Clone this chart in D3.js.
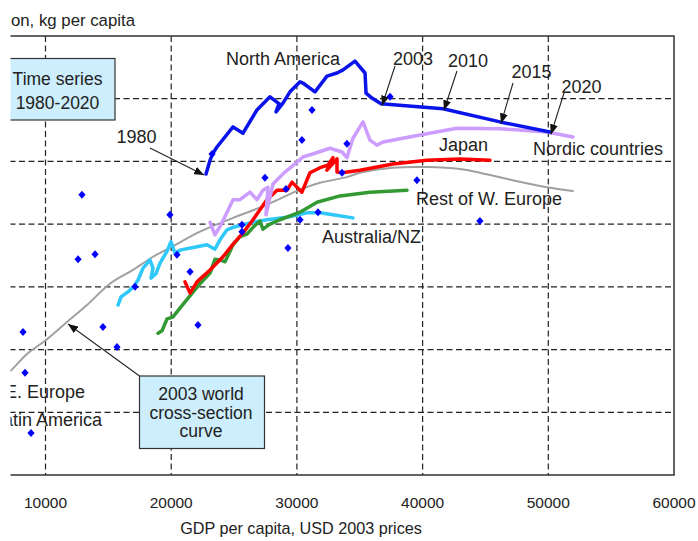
<!DOCTYPE html>
<html>
<head>
<meta charset="utf-8">
<script src="https://cdn.jsdelivr.net/npm/d3@7"></script>
<style>
body { margin: 0; background: #fff; }
text { font-family: "Liberation Sans", Arial, sans-serif; fill: #222; }
</style>
</head>
<body>
<svg id="chart"></svg>
<script>
// ---------- data (GDP per capita USD, kg per capita) ----------
var xTicks = [10000, 20000, 30000, 40000, 50000, 60000];
var yGrid = [100, 200, 300, 400, 500, 600];

var northAmerica = [[22770,480],[23090,502],[23320,513],[23640,523],[24920,555],[25710,545],
  [26820,582],[27860,603],[28570,592],[28340,579],[28890,593],[29450,611],[30250,627],
  [30480,625],[31440,611],[32390,636],[33190,641],[33670,646],[34620,660],[35420,641],
  [35500,609],[35970,601],[36690,592],[41620,584],[46160,563],[50130,547]];

var nordic = [[23090,403],[23480,383],[23960,399],[24920,439],[25470,439],[26270,451],
  [26820,439],[27300,454],[27700,459],[27540,415],[28100,464],[29050,483],[30010,499],
  [30480,507],[31440,513],[32630,521],[33590,515],[33980,506],[34460,537],[35260,563],
  [35810,534],[36370,526],[36850,531],[39790,542],[42730,553],[46160,552],[49890,547],[51960,539]];

var japan = [[21100,308],[21500,290],[22050,308],[23090,327],[24120,348],[24920,368],
  [25710,386],[26510,407],[27060,423],[27620,439],[28420,454],[29210,454],[29610,467],
  [30400,451],[31040,482],[31840,490],[32470,494],[32870,506],[32390,486],[33190,504],
  [33190,483],[33590,482],[35020,486],[37640,496],[40350,502],[42970,504],[45360,502]];

var restWEurope = [[18950,226],[19270,230],[19670,249],[20140,252],[21100,276],[22290,305],
  [23090,322],[23480,344],[23880,343],[24280,340],[24920,367],[25470,380],[26030,384],
  [26510,395],[27060,405],[27300,392],[27860,400],[28650,407],[30250,419],[31600,435],
  [33430,445],[35810,451],[38760,454]];

var australiaNZ = [[15770,271],[16010,284],[16560,292],[17040,301],[17360,311],[17760,330],
  [18310,343],[18550,330],[18390,314],[18790,321],[19110,338],[19670,357],[19980,372],
  [20300,354],[20780,359],[22050,364],[22850,367],[23480,360],[23880,375],[24440,391],
  [24920,395],[25710,399],[26510,403],[27620,407],[29210,411],[30800,418],[31840,418],
  [32870,415],[34460,410]];

var worldCurve = [[6000,145],[7260,167],[8530,193],[9960,214],[11710,244],[13300,271],[15130,305],
  [16960,327],[18550,348],[20140,365],[22290,388],[24920,410],[27620,431],[30010,453],
  [31840,466],[33980,475],[35020,482],[37640,490],[40350,491],[42970,488],[44560,482],
  [47190,470],[49890,459],[51960,453]];

var countries2003 = [[31200,582],[30400,534],[33980,528],[37410,603],[23250,512],[27460,474],
  [29130,456],[33590,482],[39550,470],[44560,405],[12900,447],[19900,415],[25630,399],
  [25630,388],[12590,344],[13940,352],[20460,351],[21500,324],[30250,407],[31680,419],
  [29290,362],[17120,300],[8210,228],[14570,236],[22130,239],[15690,204],[8370,163],[8850,67]];

var series = [
  { name: "world", values: worldCurve, color: "#a0a0a0", width: 2 },
  { name: "Australia/NZ", values: australiaNZ, color: "#2ec8fa", width: 3.5 },
  { name: "Rest of W. Europe", values: restWEurope, color: "#339933", width: 3.5 },
  { name: "Japan", values: japan, color: "#ff0000", width: 3.5 },
  { name: "Nordic countries", values: nordic, color: "#cc9cff", width: 3.5 },
  { name: "North America", values: northAmerica, color: "#0a14ea", width: 3.5 }
];

// ---------- setup ----------
var screen = { width: 698, height: 541 };
var plot = { left: 11, right: 674, top: 36, bottom: 475 };

var svg = d3.select("#chart")
  .attr("width", screen.width)
  .attr("height", screen.height);

svg.append("rect").attr("width", screen.width).attr("height", screen.height).attr("fill", "#fff");

var xScale = d3.scaleLinear().domain([10000, 60000]).range([45.5, 674]);
var yScale = d3.scaleLinear().domain([0, 700]).range([475, 36]);

var defs = svg.append("defs");
defs.append("marker")
  .attr("id", "arrow")
  .attr("markerUnits", "userSpaceOnUse")
  .attr("viewBox", "0 0 10 8")
  .attr("refX", 10).attr("refY", 4)
  .attr("markerWidth", 10).attr("markerHeight", 8)
  .attr("orient", "auto")
  .append("path")
  .attr("d", "M0,0 L10,4 L0,8 Z")
  .attr("fill", "#111");

// ---------- grid ----------
var drawGrid = function () {
  var g = svg.append("g");
  g.selectAll(".hgrid")
    .data(yGrid)
    .enter()
    .append("line")
    .attr("x1", 0).attr("x2", plot.right)
    .attr("y1", function (d) { return yScale(d); })
    .attr("y2", function (d) { return yScale(d); })
    .attr("stroke", "#222").attr("stroke-width", 1.2)
    .attr("stroke-dasharray", "6,3.5");
  g.selectAll(".vgrid")
    .data(xTicks.slice(0, 5))
    .enter()
    .append("line")
    .attr("x1", function (d) { return xScale(d); })
    .attr("x2", function (d) { return xScale(d); })
    .attr("y1", plot.top).attr("y2", plot.bottom)
    .attr("stroke", "#222").attr("stroke-width", 1.2)
    .attr("stroke-dasharray", "6,3.5");
};

// ---------- lines + points ----------
var drawLines = function () {
  var line = d3.line()
    .x(function (d) { return xScale(d[0]); })
    .y(function (d) { return yScale(d[1]); });
  var curve = d3.line()
    .curve(d3.curveCatmullRom)
    .x(function (d) { return xScale(d[0]); })
    .y(function (d) { return yScale(d[1]); });

  svg.append("g")
    .selectAll("path")
    .data(series)
    .enter()
    .append("path")
    .attr("d", function (s) { return s.name == "world" ? curve(s.values) : line(s.values); })
    .attr("fill", "none")
    .attr("stroke", function (s) { return s.color; })
    .attr("stroke-width", function (s) { return s.width; })
    .attr("stroke-linejoin", "round")
    .attr("stroke-linecap", "round");

  svg.append("g")
    .selectAll("path")
    .data(countries2003)
    .enter()
    .append("path")
    .attr("transform", function (d) { return "translate(" + xScale(d[0]) + "," + yScale(d[1]) + ")"; })
    .attr("d", "M0,-4 L3.6,0 L0,4 L-3.6,0 Z")
    .attr("fill", "#0000ff");
};

// ---------- frame + axis ----------
var drawAxis = function () {
  svg.append("path")
    .attr("d", "M0," + plot.top + " H" + plot.right + " V" + plot.bottom + " H0")
    .attr("fill", "none")
    .attr("stroke", "#333")
    .attr("stroke-width", 1.5);

  svg.append("g")
    .selectAll("text")
    .data(xTicks)
    .enter()
    .append("text")
    .attr("x", function (d) { return xScale(d); })
    .attr("y", 508)
    .attr("text-anchor", "middle")
    .style("font-size", "15.5px")
    .text(function (d) { return d; });

  svg.append("text")
    .attr("x", 301).attr("y", 534)
    .attr("text-anchor", "middle")
    .style("font-size", "16.2px")
    .text("GDP per capita, USD 2003 prices");

  svg.append("text")
    .attr("x", 135).attr("y", 26)
    .attr("text-anchor", "end")
    .style("font-size", "16.8px")
    .text("on, kg per capita");
};

// ---------- annotations ----------
var arrow = function (x1, y1, x2, y2) {
  svg.append("line")
    .attr("x1", x1).attr("y1", y1).attr("x2", x2).attr("y2", y2)
    .attr("stroke", "#222").attr("stroke-width", 1.1)
    .attr("marker-end", "url(#arrow)");
};

var label = function (txt, x, y, anchor, size) {
  svg.append("text")
    .attr("x", x).attr("y", y)
    .attr("text-anchor", anchor || "start")
    .style("font-size", (size || 18) + "px")
    .text(txt);
};

var drawAnnotations = function () {
  // series names
  label("North America", 226, 64.5);
  label("Japan", 439, 151);
  label("Nordic countries", 533, 155);
  label("Rest of W. Europe", 416, 205);
  label("Australia/NZ", 421, 243, "end");
  label("E. Europe", 85, 398, "end");
  label("Latin America", 102, 426, "end");

  // year arrows onto the North America path
  var years = [
    { text: "1980", idx: 0, tail: [150, 148], pos: [116.5, 143], tip: [-2, 1] },
    { text: "2003", idx: 22, tail: [395, 66], pos: [393, 65], tip: [1, 2] },
    { text: "2010", idx: 23, tail: [457, 71], pos: [448, 66.5], tip: [1, 1.5] },
    { text: "2015", idx: 24, tail: [513, 83], pos: [511.5, 78], tip: [1, 1.5] },
    { text: "2020", idx: 25, tail: [564, 93], pos: [561.5, 93], tip: [1, 2.5] }
  ];
  years.forEach(function (a) {
    var p = northAmerica[a.idx];
    arrow(a.tail[0], a.tail[1], xScale(p[0]) + a.tip[0], yScale(p[1]) + a.tip[1]);
    label(a.text, a.pos[0], a.pos[1]);
  });

  // cross-section arrow
  var c = worldCurve[4];
  arrow(139.5, 376, xScale(c[0]) + 1, yScale(c[1]) + 2);

  // boxes
  svg.append("rect")
    .attr("x", -2).attr("y", 58.5).attr("width", 117).attr("height", 61.5)
    .attr("fill", "#cdeefd").attr("stroke", "#333").attr("stroke-width", 1.2);
  label("Time series", 57.5, 85, "middle", 17.5);
  label("1980-2020", 57.5, 108.5, "middle", 17.5);

  svg.append("rect")
    .attr("x", 139.5).attr("y", 376).attr("width", 125).attr("height", 72.5)
    .attr("fill", "#cdeefd").attr("stroke", "#333").attr("stroke-width", 1.2);
  label("2003 world", 201, 399.5, "middle", 17.5);
  label("cross-section", 201, 418.5, "middle", 17.5);
  label("curve", 201, 437, "middle", 17.5);
};

drawGrid();
drawLines();
drawAxis();
drawAnnotations();

// cropped left edge of the original picture
svg.append("rect")
  .attr("x", 0).attr("y", 0).attr("width", 10.5).attr("height", screen.height)
  .attr("fill", "#fff");
</script>
</body>
</html>
